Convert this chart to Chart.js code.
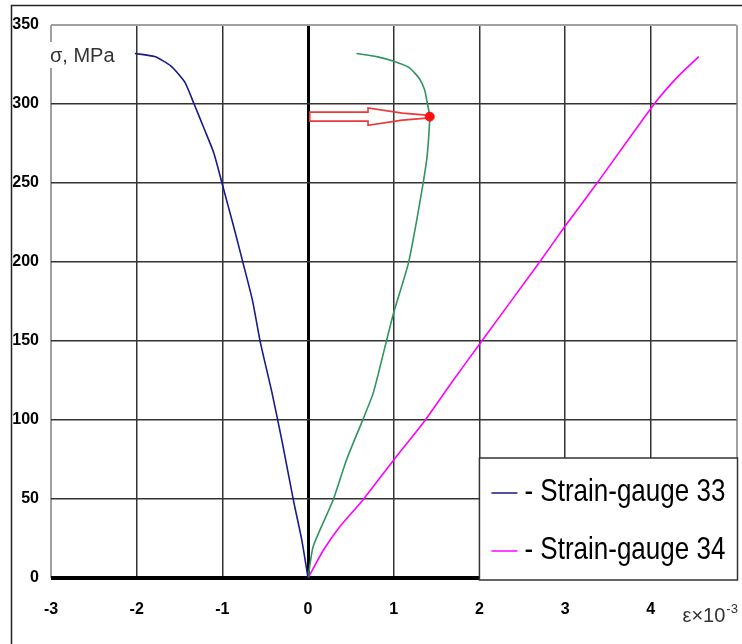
<!DOCTYPE html>
<html><head><meta charset="utf-8">
<script src="https://cdn.jsdelivr.net/npm/chart.js@4.4.0/dist/chart.umd.min.js"></script>
<style>html,body{margin:0;padding:0;background:#fff;}canvas{display:block;}</style>
</head><body>
<canvas id="c" width="742" height="644" style="width:742px;height:644px"></canvas>
<script>
// ---- data ----
const xMin = -3, xMax = 5, xStep = 1;
const yMin = 0, yMax = 350, yStep = 50;

const gauge33Label = 'Strain-gauge 33';
const gauge33X = [0, -0.073, -0.17, -0.305, -0.42, -0.556, -0.65, -0.757, -0.866, -1.0, -1.10, -1.21, -1.33, -1.44, -1.60, -1.79, -2.02];
const gauge33Y = [0, 24, 49, 87, 117, 149, 176, 199, 222, 249, 269, 284, 300, 314, 324, 330, 332];

const gaugeGreenLabel = 'Strain-gauge (green)';
const gaugeGreenX = [0, 0.06, 0.29, 0.45, 0.63, 0.76, 0.91, 1.0, 1.17, 1.26, 1.34, 1.385, 1.405, 1.42, 1.39, 1.36, 1.30, 1.18, 1.0, 0.80, 0.565];
const gaugeGreenY = [0, 20, 49, 75, 99, 117, 149, 168, 199, 224, 249, 265, 277, 292, 301, 309, 316, 323, 327, 330, 332];

const gauge34Label = 'Strain-gauge 34';
const gauge34X = [0, 0.18, 0.37, 0.64, 1.0, 1.36, 1.68, 2.0, 2.69, 2.99, 3.36, 4.04, 4.31, 4.56];
const gauge34Y = [0, 17.7, 32.5, 49.4, 74.7, 99.4, 124, 148, 199, 222, 249, 300, 317, 330];

const markerPoint = [1.42, 292];
const arrowFromX = 0.02;
const arrowNeckX = 0.70;
const arrowTaperX = 1.10;

const yTitle = 'σ, MPa';
const xTitle = 'ε×10';
const xTitleSup = '-3';

const toPts = (xs, ys) => xs.map((v, i) => ({x: v, y: ys[i]}));

const TICK_FONT = {family: '"Liberation Sans", Arial, sans-serif', size: 16, weight: 'bold'};

const bgPlugin = {
  id: 'bg',
  beforeDraw(chart) {
    const ctx = chart.ctx;
    ctx.save(); ctx.fillStyle = '#fff'; ctx.fillRect(0, 0, chart.width, chart.height); ctx.restore();
  }
};

const arrowPlugin = {
  id: 'arrow',
  beforeDatasetsDraw(chart) {
    const {ctx, scales: {x, y}} = chart;
    const cy = y.getPixelForValue(markerPoint[1]);
    const x0 = x.getPixelForValue(arrowFromX);
    const xs = x.getPixelForValue(arrowNeckX);
    const xn = x.getPixelForValue(arrowTaperX);
    const xt = x.getPixelForValue(markerPoint[0]);
    ctx.save();
    ctx.strokeStyle = '#e83a3a';
    ctx.lineWidth = 1.6;
    ctx.beginPath();
    ctx.moveTo(x0, cy - 4.5);
    ctx.lineTo(xs, cy - 4.5);
    ctx.lineTo(xs, cy - 8.7);
    ctx.lineTo(xn, cy - 3.5);
    ctx.lineTo(xt - 3, cy - 1.5);
    ctx.lineTo(xt, cy);
    ctx.lineTo(xt - 3, cy + 1.5);
    ctx.lineTo(xn, cy + 3.5);
    ctx.lineTo(xs, cy + 8.7);
    ctx.lineTo(xs, cy + 4.5);
    ctx.lineTo(x0, cy + 4.5);
    ctx.closePath();
    ctx.stroke();
    ctx.restore();
  }
};

const decorPlugin = {
  id: 'decor',
  afterDraw(chart) {
    const {ctx, chartArea: a} = chart;
    ctx.save();
    // outer frame
    ctx.strokeStyle = '#222';
    ctx.lineWidth = 1.5;
    ctx.strokeRect(11.5, 5.5, 900, 900);

    // y title with white background
    ctx.font = '20px "Liberation Sans", Arial, sans-serif';
    const tw = ctx.measureText(yTitle).width;
    ctx.fillStyle = '#fff';
    ctx.fillRect(a.left - 3, a.top + 17, tw + 6, 26);
    ctx.fillStyle = '#333';
    ctx.textBaseline = 'alphabetic';
    ctx.textAlign = 'left';
    ctx.fillText(yTitle, a.left - 1, a.top + 37);

    // x title
    const xt0 = a.right - 54;
    const xb = a.bottom + 44;
    ctx.fillText(xTitle, xt0, xb);
    const w1 = ctx.measureText(xTitle).width;
    ctx.font = '13px "Liberation Sans", Arial, sans-serif';
    ctx.fillText(xTitleSup, xt0 + w1 + 1, xb - 9);

    // legend box
    const lx = a.left + (a.right - a.left) * 0.625;
    const ly = a.bottom - 120;
    const rx = a.right + 1;
    const by = a.bottom + 2;
    ctx.fillStyle = '#fff';
    ctx.fillRect(lx, ly, rx - lx, by - ly);
    ctx.strokeStyle = '#333';
    ctx.lineWidth = 1.5;
    ctx.strokeRect(lx, ly, rx - lx, by - ly);
    const items = chart.data.datasets.filter(d => d.inLegend);
    items.forEach((d, i) => {
      const rowY = ly + 35 + i * 58;
      ctx.strokeStyle = d.legendColor || d.borderColor;
      ctx.lineWidth = 2;
      ctx.beginPath();
      ctx.moveTo(lx + 12, rowY);
      ctx.lineTo(lx + 38, rowY);
      ctx.stroke();
      ctx.save();
      ctx.translate(lx + 45, rowY + 8);
      ctx.scale(1, 1.22);
      ctx.font = '26px "Liberation Sans", Arial, sans-serif';
      ctx.fillStyle = '#000';
      ctx.textBaseline = 'alphabetic';
      ctx.fillText('- ' + d.label, 0, 0);
      ctx.restore();
    });
    ctx.restore();
  }
};

new Chart(document.getElementById('c'), {
  type: 'scatter',
  data: {
    datasets: [
      {label: gauge33Label, data: toPts(gauge33X, gauge33Y), showLine: true, borderColor: '#1a1a88', legendColor: '#5050a8', borderWidth: 1.6, pointRadius: 0, tension: 0.2, inLegend: true, order: 3},
      {label: gaugeGreenLabel, data: toPts(gaugeGreenX, gaugeGreenY), showLine: true, borderColor: '#2e9460', borderWidth: 1.6, pointRadius: 0, tension: 0.2, inLegend: false, order: 3},
      {label: gauge34Label, data: toPts(gauge34X, gauge34Y), showLine: true, borderColor: '#ff00ff', legendColor: '#ff40ff', borderWidth: 1.6, pointRadius: 0, tension: 0.2, inLegend: true, order: 3},
      {label: 'marker', data: [{x: markerPoint[0], y: markerPoint[1]}], showLine: false, pointRadius: 4.5, pointBackgroundColor: '#ff1010', pointBorderColor: '#ff1010', inLegend: false, order: 1}
    ]
  },
  options: {
    responsive: false,
    animation: false,
    events: [],
    layout: {padding: {left: 0, top: 25, right: 5, bottom: 0}},
    plugins: {legend: {display: false}, tooltip: {enabled: false}},
    scales: {
      x: {
        type: 'linear', min: xMin, max: xMax,
        afterFit(s) { s.height = 66; s.paddingLeft = 0; s.paddingRight = 0; },
        border: {display: false},
        grid: {
          drawTicks: false,
          color: c => c.tick.value === 0 ? '#000' : (c.tick.value === xMin || c.tick.value === xMax) ? '#a0a0a0' : '#333',
          lineWidth: c => c.tick.value === 0 ? 3 : (c.tick.value === xMin || c.tick.value === xMax) ? 2 : 1.5
        },
        ticks: {stepSize: xStep, padding: 22, color: '#000', font: TICK_FONT, maxRotation: 0,
          callback: v => v === xMax ? '' : v}
      },
      y: {
        type: 'linear', min: yMin, max: yMax,
        afterFit(s) { s.width = 51; s.paddingTop = 0; s.paddingBottom = 0; },
        border: {display: false},
        grid: {
          drawTicks: false,
          color: c => c.tick.value === 0 ? '#000' : c.tick.value === yMax ? '#a0a0a0' : '#333',
          lineWidth: c => c.tick.value === 0 ? 4 : c.tick.value === yMax ? 2 : 1.5
        },
        ticks: {stepSize: yStep, padding: 12, color: '#000', font: TICK_FONT}
      }
    }
  },
  plugins: [bgPlugin, arrowPlugin, decorPlugin]
});
</script>
</body></html>
